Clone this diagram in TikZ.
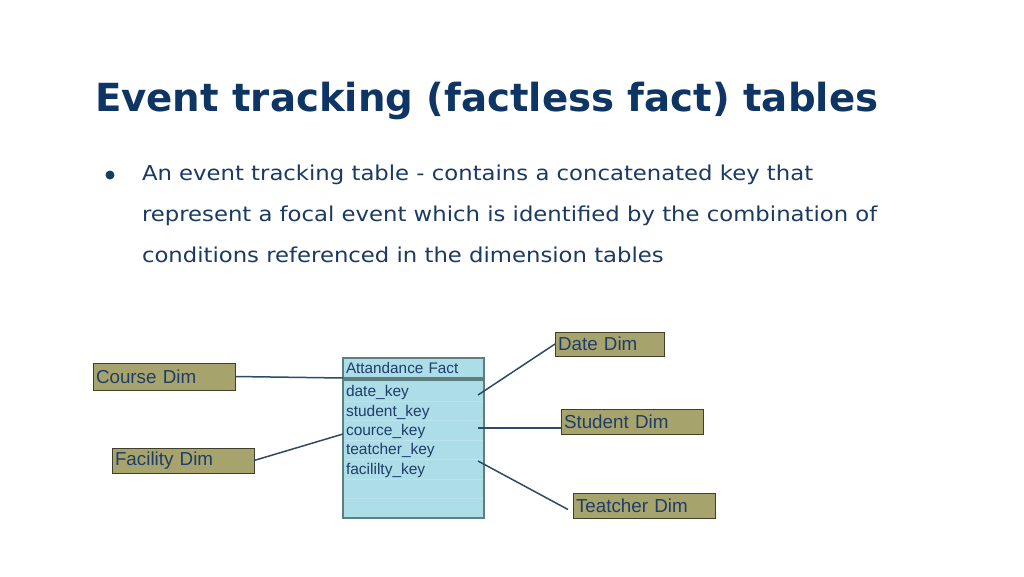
\documentclass[tikz,border=0pt]{standalone}
\usepackage{fontspec}
\setmainfont{DejaVu Sans}
\newfontfamily\diagfont{Liberation Sans}
\usetikzlibrary{positioning,calc}
\definecolor{titleblue}{HTML}{0E3563}
\definecolor{textblue}{HTML}{1A3A63}
\definecolor{factfill}{HTML}{ADDDE6}
\definecolor{factline}{HTML}{5E7F80}
\definecolor{rowcol}{HTML}{BAE3EB}
\definecolor{dimfill}{HTML}{A6A46C}
\definecolor{dimline}{HTML}{3F3F2A}
\definecolor{linkcol}{HTML}{2E4A66}
\definecolor{keytext}{HTML}{1F3D6B}
\newcommand{\widetext}[1]{\scalebox{1.11}[1]{#1}}
\begin{document}
\begin{tikzpicture}[x=1pt,y=-1pt,inner sep=0pt,outer sep=0pt,
dimbox/.style={draw=dimline,fill=dimfill,line width=1pt,anchor=north west,inner xsep=3pt,align=left,text=keytext,font=\diagfont\fontsize{18.8}{22}\selectfont},
facthead/.style={draw=factline,fill=factfill,line width=1.2pt,anchor=north west,inner xsep=3pt,align=left,text=keytext,minimum height=20pt,text width=135pt,font=\diagfont\fontsize{15.3}{18}\selectfont},
factbody/.style={draw=factline,fill=factfill,line width=1.2pt,anchor=north west,minimum width=141pt,minimum height=138pt},
keyrow/.style={anchor=north west,inner xsep=3pt,align=left,text=keytext,minimum height=19.4pt,text width=135pt,font=\diagfont\fontsize{15.5}{18}\selectfont},
link/.style={draw=linkcol,line width=1.5pt},
bodytext/.style={anchor=base west,text=textblue,font=\fontsize{20.5}{24}\selectfont}]
\useasboundingbox[fill=white] (0,0) rectangle (1024,576);
% heading and bullet text
\node[anchor=base west,text=titleblue,font=\bfseries\fontsize{38.7}{46}\selectfont] (title) at (95,111) {Event tracking (factless fact) tables};
\node[circle,fill=textblue,minimum size=9pt] (bullet) at (110,175) {};
\node[bodytext] (line1) at (142,180) {\widetext{An event tracking table - contains a concatenated key that}};
\node[bodytext] (line2) at (142,221) {\widetext{represent a focal event which is identified by the combination of}};
\node[bodytext] (line3) at (142,262) {\widetext{conditions referenced in the dimension tables}};
% fact table
\node[facthead] (facthead) at (343,358) {Attandance Fact};
\node[factbody] (factbody) at (343,380) {};
\foreach \i in {1,...,6}
  \draw[rowcol,line width=0.7pt] ($(factbody.north west)+(1.5,\i*19.4+2)$) -- ++(138,0);
\foreach \k [count=\i] in {date\_key,student\_key,cource\_key,teatcher\_key,facililty\_key}
  \node[keyrow] (key\i) at (343,{383+(\i-1)*19.4}) {\k};
% dimension tables
\node[dimbox,text width=136pt,minimum height=27pt] (coursedim) at (93,363) {Course Dim};
\node[dimbox,text width=136pt,minimum height=25pt] (facilitydim) at (112,448) {Facility Dim};
\node[dimbox,text width=103pt,minimum height=24pt] (datedim) at (555,332) {Date Dim};
\node[dimbox,text width=136pt,minimum height=25pt] (studentdim) at (561,409) {Student Dim};
\node[dimbox,text width=136pt,minimum height=25pt] (teatcherdim) at (573,493) {Teatcher Dim};
% links
\draw[link] (coursedim.east) -- ([yshift=2pt]factbody.north west);
\draw[link] (facilitydim.east) -- (key3.west |- 0,434);
\draw[link] ([xshift=-6pt]key1.east |- 0,395) -- (datedim.west);
\draw[link] ([xshift=-6pt]key3.east |- 0,428) -- (studentdim.west |- 0,428);
\draw[link] ([xshift=-6pt]key5.east |- 0,461) -- ([xshift=-5pt,yshift=-4pt]teatcherdim.west);
\end{tikzpicture}
\end{document}
